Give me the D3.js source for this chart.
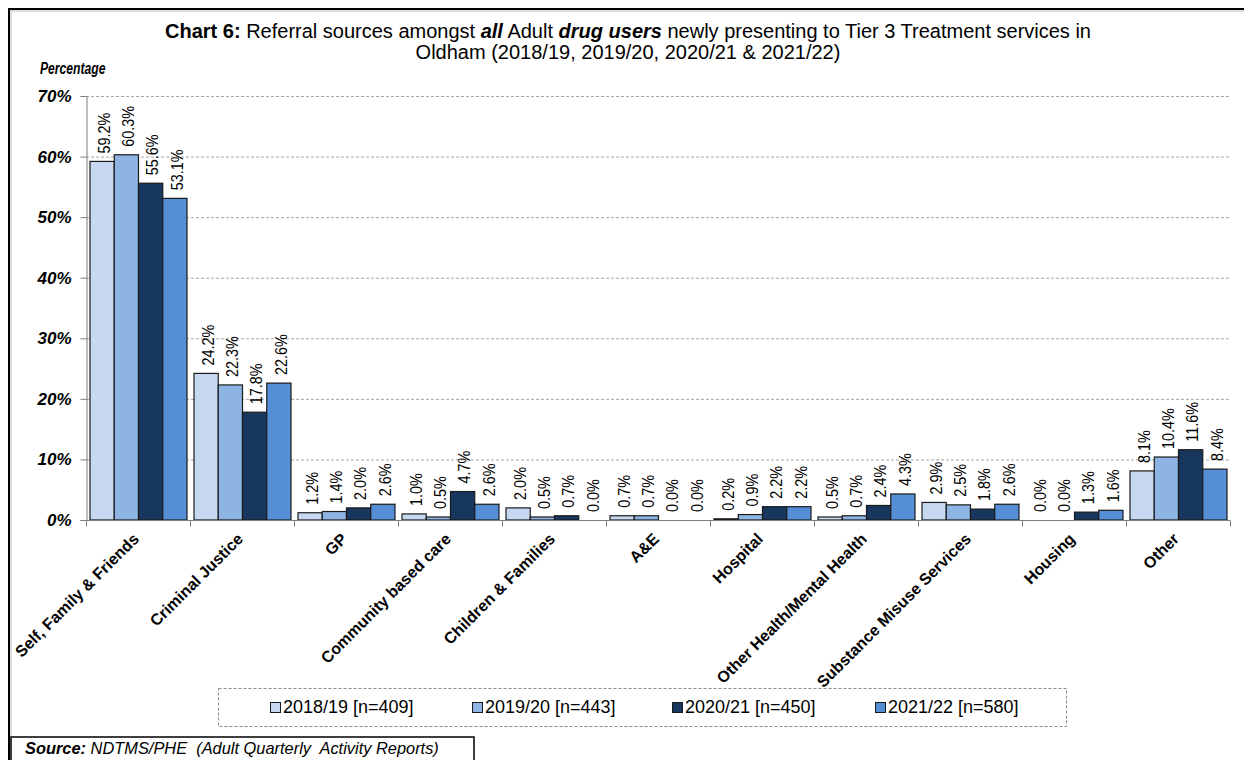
<!DOCTYPE html>
<html>
<head>
<meta charset="utf-8">
<script src="https://cdn.jsdelivr.net/npm/d3@7"></script>
<style>
  html, body { margin: 0; padding: 0; background: #fff; }
  svg { display: block; font-family: "Liberation Sans", Arial, sans-serif; }
  .pre { white-space: pre; }
</style>
</head>
<body>
<svg id="chart" width="1244" height="760"></svg>
<script>
// Referral source categories (x axis)
const categories = [
  "Self, Family & Friends", "Criminal Justice", "GP", "Community based care",
  "Children & Families", "A&E", "Hospital", "Other Health/Mental Health",
  "Substance Misuse Services", "Housing", "Other"
];

// Financial years and their cohort sizes
const years = ["2018/19", "2019/20", "2020/21", "2021/22"];
const cohortSizes = [409, 443, 450, 580];

// Percentage of new presentations by referral source, per year
const values2018 = [59.2, 24.2, 1.2, 1.0, 2.0, 0.7, 0.2, 0.5, 2.9, 0.0, 8.1];
const values2019 = [60.3, 22.3, 1.4, 0.5, 0.5, 0.7, 0.9, 0.7, 2.5, 0.0, 10.4];
const values2020 = [55.6, 17.8, 2.0, 4.7, 0.7, 0.0, 2.2, 2.4, 1.8, 1.3, 11.6];
const values2021 = [53.1, 22.6, 2.6, 2.6, 0.0, 0.0, 2.2, 4.3, 2.6, 1.6, 8.4];

const yTicks = [0, 10, 20, 30, 40, 50, 60, 70];
const seriesColors = ["#c6d9f1", "#8db4e2", "#17375e", "#558ed5"];

const seriesValues = [values2018, values2019, values2020, values2021];
const rows = categories.map((c, i) => ({
  category: c,
  values: years.map((y, j) => ({ year: y, idx: j, value: seriesValues[j][i] }))
}));

const svg = d3.select("#chart");

// Outer frame
svg.append("path")
  .attr("d", "M9,760 V9 H1244")
  .attr("fill", "none").attr("stroke", "#000").attr("stroke-width", 2);
svg.append("path")
  .attr("d", "M11,760 V11 H1244")
  .attr("fill", "none").attr("stroke", "#bbb").attr("stroke-width", 1);

// Scales
const x0 = d3.scaleBand().domain(categories).range([86, 1230]).paddingInner(0).paddingOuter(0);
const x1 = d3.scaleBand().domain(years).range([4, x0.bandwidth() - 3]).padding(0);
const y = d3.scaleLinear().domain([0, 70]).range([520, 96]);

// Gridlines
svg.append("g").selectAll("line").data(yTicks.filter(d => d > 0)).join("line")
  .attr("x1", 86).attr("x2", 1230)
  .attr("y1", d => y(d) + 0.5).attr("y2", d => y(d) + 0.5)
  .attr("stroke", "#a6a6a6").attr("stroke-width", 1).attr("stroke-dasharray", "3,2");

// Y axis
const yAxis = svg.append("g").attr("transform", "translate(86.5,0)")
  .call(d3.axisLeft(y).tickValues(yTicks).tickSize(6).tickFormat(d => d + "%"));
yAxis.select(".domain").attr("stroke", "#7f7f7f");
yAxis.selectAll(".tick line").attr("stroke", "#7f7f7f");
yAxis.selectAll(".tick text")
  .attr("x", -15)
  .attr("font-size", 17).attr("font-weight", "bold").attr("font-style", "italic")
  .attr("fill", "#000").attr("font-family", "'Liberation Sans', Arial, sans-serif");

// Y axis caption
svg.append("text").attr("transform", "translate(40,74) scale(0.76,1)")
  .attr("font-size", 16).attr("font-weight", "bold").attr("font-style", "italic")
  .text("Percentage");

// Bars
const groups = svg.append("g").selectAll("g").data(rows).join("g")
  .attr("transform", d => `translate(${x0(d.category)},0)`);

groups.selectAll("rect").data(d => d.values).join("rect")
  .attr("x", d => x1(d.year))
  .attr("y", d => y(d.value))
  .attr("width", x1.bandwidth())
  .attr("height", d => y(0) - y(d.value))
  .attr("fill", d => seriesColors[d.idx])
  .attr("stroke", "#1a1a1a").attr("stroke-width", 1.2);

// Value labels (rotated)
groups.selectAll("text.val").data(d => d.values).join("text")
  .attr("class", "val")
  .attr("transform", d => `translate(${x1(d.year) + x1.bandwidth() / 2 + 2},${y(d.value) - 8}) rotate(-90) scale(0.9,1)`)
  .attr("dy", "0.36em")
  .attr("font-size", 16)
  .attr("fill", "#000")
  .text(d => d.value.toFixed(1) + "%");

// X axis
const xAxis = svg.append("g").attr("transform", "translate(0,520.5)");
xAxis.append("line").attr("x1", 86).attr("x2", 1230).attr("stroke", "#7f7f7f");
xAxis.selectAll("line.tick").data(categories.concat(["__end"])).join("line")
  .attr("class", "tick")
  .attr("x1", (d, i) => 86.5 + i * x0.bandwidth()).attr("x2", (d, i) => 86.5 + i * x0.bandwidth())
  .attr("y1", 0).attr("y2", 6).attr("stroke", "#7f7f7f");

// Category labels rotated 45 degrees
svg.append("g").selectAll("text").data(categories).join("text")
  .attr("transform", d => `translate(${x0(d) + x0.bandwidth() / 2 - 2},${536}) rotate(-45)`)
  .attr("text-anchor", "end")
  .attr("dy", "0.35em")
  .attr("font-size", 16).attr("font-weight", "bold")
  .text(d => d);

// Title
const title = svg.append("text").attr("text-anchor", "middle").attr("font-size", 20).attr("fill", "#000");
const t1 = title.append("tspan").attr("x", 628).attr("y", 38);
t1.append("tspan").attr("font-weight", "bold").text("Chart 6:");
t1.append("tspan").text(" Referral sources amongst ");
t1.append("tspan").attr("font-weight", "bold").attr("font-style", "italic").text("all");
t1.append("tspan").text(" Adult ");
t1.append("tspan").attr("font-weight", "bold").attr("font-style", "italic").text("drug users");
t1.append("tspan").text(" newly presenting to Tier 3 Treatment services in");
title.append("tspan").attr("x", 628).attr("y", 59).text("Oldham (2018/19, 2019/20, 2020/21 & 2021/22)");

// Legend
svg.append("rect").attr("x", 218.5).attr("y", 688.5).attr("width", 848).attr("height", 38)
  .attr("fill", "#fff").attr("stroke", "#8c8c8c").attr("stroke-dasharray", "3,2");
const legendX = [270, 472, 672, 875];
const legend = svg.append("g").selectAll("g").data(years).join("g")
  .attr("transform", (d, i) => `translate(${legendX[i]},707)`);
legend.append("rect").attr("x", 0.5).attr("y", -4.5).attr("width", 10).attr("height", 10)
  .attr("fill", (d, i) => seriesColors[i]).attr("stroke", "#1a1a1a");
legend.append("text").attr("x", 13).attr("dy", "0.36em").attr("font-size", 18)
  .text((d, i) => `${d} [n=${cohortSizes[i]}]`);

// Source note
svg.append("rect").attr("x", 11).attr("y", 737).attr("width", 463).attr("height", 30)
  .attr("fill", "#fff").attr("stroke", "#000").attr("stroke-width", 1.5);
const src = svg.append("text").attr("class", "pre").attr("x", 25).attr("y", 754)
  .attr("font-size", 16.4).attr("font-style", "italic");
src.append("tspan").attr("font-weight", "bold").text("Source:");
src.append("tspan").text(" NDTMS/PHE  (Adult Quarterly  Activity Reports)");
</script>
</body>
</html>
